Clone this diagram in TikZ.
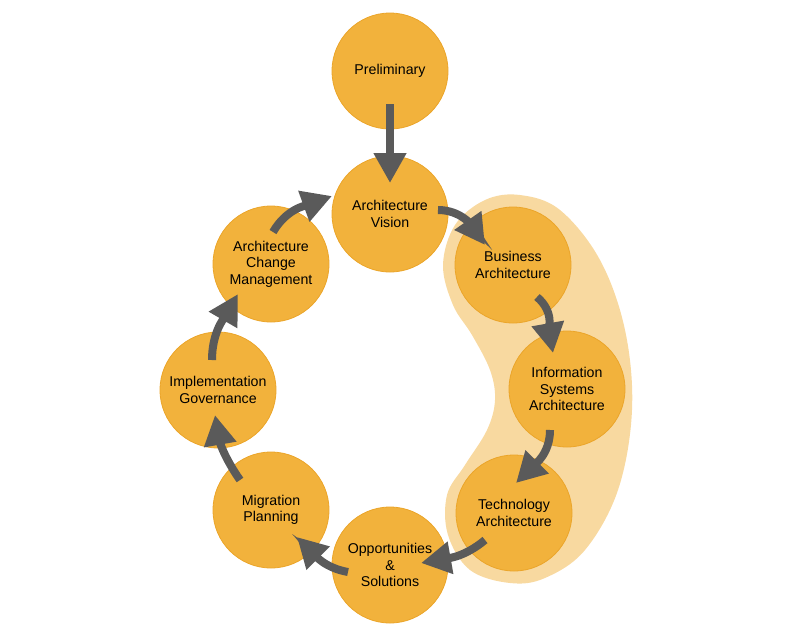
\documentclass[tikz,border=0pt]{standalone}
\usepackage{fontspec}
\setmainfont{Liberation Sans}
\usetikzlibrary{arrows.meta,calc}
\definecolor{phasefill}{HTML}{F2B23C}
\definecolor{phaseedge}{HTML}{EBA52A}
\definecolor{blobfill}{HTML}{F8D9A0}
\definecolor{arrcol}{HTML}{5A5A5A}
\begin{document}
\begin{tikzpicture}[x=1pt,y=1pt,
  phase/.style={circle,fill=phasefill,draw=phaseedge,line width=0.8pt,minimum size=116pt,inner sep=0pt,align=center,font=\fontsize{14.2}{16.5}\selectfont},
  flow/.style={draw=arrcol,line width=8pt,-{Triangle[length=30pt,width=31pt]}}]
\useasboundingbox (0,0) rectangle (800,-630);
% highlight blob
\fill[blobfill] plot[smooth cycle,tension=0.6] coordinates {
  (443,-265) (455,-225) (485,-200) (520,-195) (560,-210) (600,-260) (625,-330)
  (632,-410) (618,-490) (585,-550) (545,-578) (510,-583) (470,-570) (448,-535)
  (447,-495) (465,-465) (487,-430) (495,-400) (490,-370) (472,-335) (453,-305)};
% phases
\node[phase] (pre) at (390,-71) {Preliminary};
\node[phase] (vis) at (390,-214) {Architecture\\Vision};
\node[phase] (bus) at (513,-265) {Business\\Architecture};
\node[phase] (isa) at (567,-389) {Information\\Systems\\Architecture};
\node[phase] (tec) at (514,-513) {Technology\\Architecture};
\node[phase] (opp) at (390,-565) {Opportunities\\\&\\Solutions};
\node[phase] (mig) at (271,-510) {Migration\\Planning};
\node[phase] (imp) at (218,-390) {Implementation\\Governance};
\node[phase] (acm) at (271,-264) {Architecture\\Change\\Management};
% arrows
\draw[flow] ($(pre)+(0,-33)$) -- ($(vis)+(0,31)$);
\draw[flow] ($(vis)+(48,4)$) to[out=0,in=125] ($(bus)+(-28,20)$);
\draw[flow] ($(bus)+(24,-32)$) to[out=-40,in=100] ($(isa)+(-14,36)$);
\draw[flow] ($(isa)+(-17,-41)$) to[out=-90,in=45] ($(tec)+(2,30)$);
\draw[flow] ($(tec)+(-29,-27)$) to[out=-140,in=10] ($(opp)+(31,2)$);
\draw[flow] ($(opp)+(-42,-7)$) to[out=170,in=-45] ($(mig)+(26,-27)$);
\draw[flow] ($(mig)+(-31,30)$) to[out=125,in=-80] ($(imp)+(-3,-25)$);
\draw[flow] ($(imp)+(-6,30)$) to[out=90,in=-120] ($(acm)+(-33,-30)$);
\draw[flow] ($(acm)+(2,32)$) to[out=60,in=-160] ($(vis)+(-58,18)$);
\end{tikzpicture}
\end{document}
